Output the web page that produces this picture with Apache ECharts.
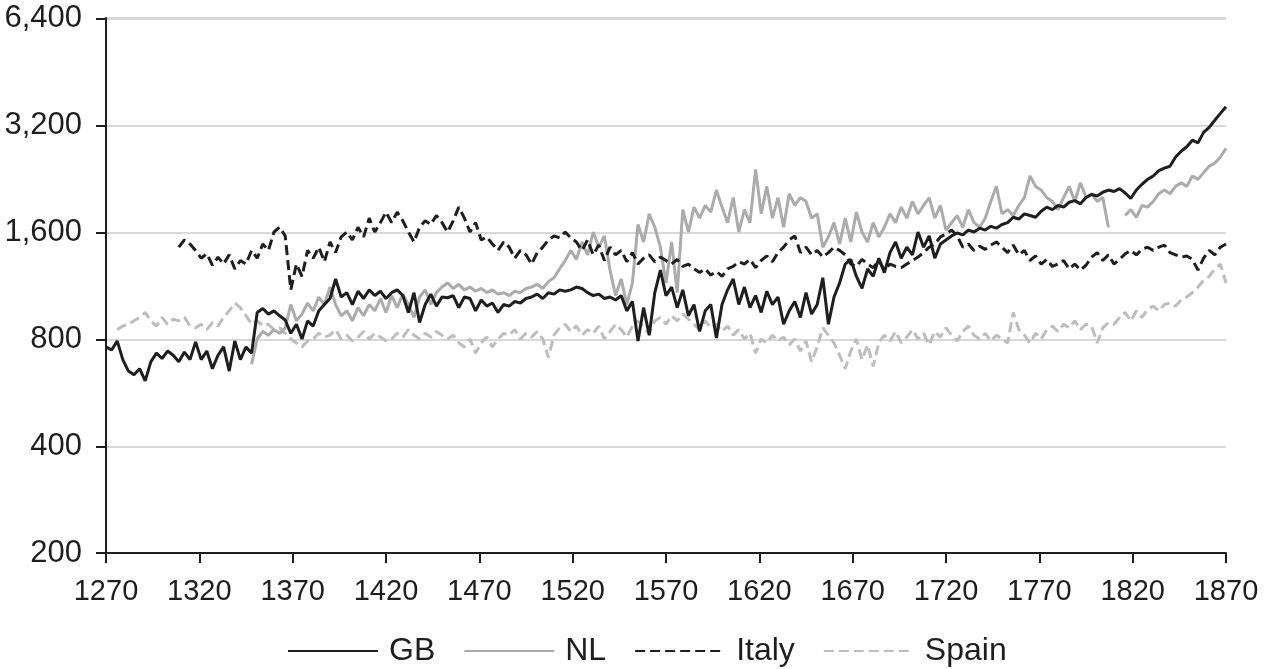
<!DOCTYPE html>
<html>
<head>
<meta charset="utf-8">
<title>GDP per capita, GB / NL / Italy / Spain</title>
<script src="https://cdn.jsdelivr.net/npm/echarts@6/dist/echarts.min.js"></script>
<style>
  html, body { margin: 0; padding: 0; background: #fff; }
  #main { width: 1264px; height: 669px; }
</style>
</head>
<body>
<div id="main"></div>
<script>
var STEP = 3;
var xTicks = [1270, 1870, 50];          // min, max, interval
var yTicks = [200, 400, 800, 1600, 3200, 6400];

var gbStart = 1270;
var gbValues = [
  760, 745, 790, 700, 650, 635, 660, 610, 690, 730,
  705, 740, 720, 690, 735, 700, 785, 700, 740, 660,
  720, 760, 650, 790, 700, 760, 730, 950, 975, 940,
  960, 930, 905, 830, 880, 800, 900, 870, 960, 1000,
  1040, 1180, 1050, 1080, 1000, 1090, 1040, 1100, 1060, 1090,
  1040, 1080, 1100, 1060, 950, 1080, 890, 1000, 1070, 990,
  1050, 1045, 1060, 980, 1050, 1040, 960, 1030, 990, 1010,
  950, 1000, 990, 1020, 1010, 1040, 1050, 1070, 1040, 1080,
  1070, 1100, 1090, 1100, 1120, 1110, 1080, 1060, 1070, 1040,
  1050, 1030, 1060, 960, 1020, 790, 980, 820, 1080, 1250,
  1060, 1120, 980, 1100, 930, 1000, 840, 960, 1000, 805,
  1000, 1100, 1180, 1000, 1120, 980, 1060, 950, 1090, 1000,
  1050, 880, 960, 1020, 920, 1080, 940, 1000, 1190, 880,
  1050, 1150, 1300, 1340, 1200, 1110, 1260, 1200, 1350, 1230,
  1400, 1500, 1350, 1450, 1380, 1600, 1450, 1560, 1350, 1480,
  1520, 1560, 1590, 1570, 1620, 1600, 1640, 1620, 1660, 1640,
  1680, 1700, 1760, 1740, 1800, 1780, 1760, 1830, 1880, 1850,
  1900, 1880, 1940, 1960, 1920, 2000, 2040, 2020, 2070, 2100,
  2080, 2120, 2060, 1990, 2100, 2180, 2250, 2300, 2380, 2420,
  2450, 2600, 2700, 2780, 2900, 2850, 3050, 3150, 3300, 3450,
  3600
];

var nlStart = 1348;
var nlValues = [
  680, 800, 840, 820, 850, 830, 860, 1000, 900, 940,
  1010, 960, 1050, 1000, 1120, 1000, 930, 960, 900, 980,
  930, 1000, 960, 1040, 950, 1060, 980, 1070, 1000, 920,
  1050, 1100, 1000, 1080, 1120, 1150, 1110, 1140, 1100, 1120,
  1090, 1110, 1080, 1100, 1070, 1080, 1060, 1090, 1080, 1110,
  1120, 1140, 1110, 1160, 1190, 1260, 1330, 1420, 1340, 1500,
  1380, 1600, 1450, 1560, 1250, 1060, 1180, 1000, 1150, 1680,
  1500, 1800, 1650, 1450, 1150, 1500, 1080, 1850, 1600, 1880,
  1750, 1900, 1820, 2100, 1880, 1700, 2000, 1600, 1850, 1700,
  2400, 1800, 2150, 1750, 2000, 1650, 2050, 1900, 2000, 1950,
  1750, 1800, 1450, 1550, 1700, 1480, 1750, 1500, 1820, 1600,
  1500, 1700, 1550, 1650, 1800, 1700, 1880, 1750, 1950, 1800,
  1900, 2000, 1750, 1900, 1620, 1700, 1780, 1650, 1850, 1700,
  1650, 1750, 1950, 2150, 1800, 1850, 1780, 1900, 2000, 2300,
  2150, 2100, 2000, 1950, 1850, 2000, 2150, 1950, 2200, 2000,
  2050, 1950, 2000, 1650, null, null, 1780, 1850, 1760, 1900,
  1880, 1950, 2050, 2100, 2050, 2150, 2200, 2150, 2300, 2250,
  2350, 2450, 2500, 2600, 2750
];

var italyStart = 1309;
var italyValues = [
  1450, 1520, 1480, 1420, 1350, 1390, 1290, 1360, 1300, 1380,
  1260, 1330, 1300, 1420, 1350, 1480, 1420, 1600, 1650, 1560,
  1100, 1300, 1200, 1420, 1350, 1450, 1320, 1500, 1400, 1550,
  1600, 1520, 1650, 1550, 1750, 1600, 1700, 1820, 1700, 1820,
  1720, 1600, 1500, 1650, 1720, 1680, 1780, 1700, 1600, 1720,
  1880, 1750, 1600, 1700, 1520, 1550, 1480, 1420, 1500, 1450,
  1350, 1420, 1380, 1300, 1400, 1450, 1520, 1560, 1540, 1600,
  1540, 1500, 1420, 1520, 1380, 1470, 1330, 1450, 1380, 1420,
  1320, 1400, 1300, 1350, 1380, 1320, 1360, 1330, 1300, 1340,
  1280, 1300, 1260, 1230, 1260, 1210, 1240, 1200, 1260, 1280,
  1320, 1300, 1340, 1270, 1330, 1370, 1320, 1400, 1450, 1520,
  1560, 1400, 1450, 1380, 1420, 1360, 1400, 1450, 1420, 1380,
  1300, 1280, 1340, 1300, 1270, 1330, 1250, 1300, 1280, 1270,
  1300, 1330, 1360, 1400, 1450, 1480, 1550, 1580, 1620, 1560,
  1450, 1480, 1420, 1460, 1430, 1470, 1500, 1450, 1400, 1470,
  1380, 1420, 1330, 1370, 1300, 1340, 1280, 1300, 1330, 1260,
  1300, 1250, 1290, 1360, 1400, 1330, 1380, 1300, 1340, 1390,
  1420, 1380, 1430, 1450, 1420, 1450, 1470, 1400, 1380, 1360,
  1370, 1340, 1250, 1350, 1420, 1380, 1450, 1480
];

var spainStart = 1276;
var spainValues = [
  850, 870, 880, 900, 920, 950, 900, 870, 920, 880,
  910, 900, 920, 870, 860, 880, 850, 890, 870, 920,
  960, 1010, 980, 930, 880, 900, 870, 880, 850, 860,
  830, 800, 780, 760, 790, 800, 830, 810, 820, 850,
  800, 820, 790, 810, 840, 800, 830, 810, 790, 800,
  830, 810, 850, 820, 800, 830, 810, 840, 820, 800,
  820, 780, 760, 800, 730, 780, 810, 760, 800, 830,
  820, 850, 800, 830, 810, 840, 800, 710, 820, 860,
  880, 840, 870, 820, 850, 830, 870, 800, 840, 880,
  850, 810, 870, 900, 860, 830, 900, 920, 880, 930,
  900, 940, 910, 880, 850, 900, 860, 880, 840, 870,
  820, 850, 800, 830, 730, 800, 780, 820, 790, 810,
  770, 800, 740, 790, 690, 760, 860, 820, 780, 720,
  660, 740, 800, 700, 770, 670, 780, 820, 790, 840,
  780, 810, 850, 800, 830, 770, 840, 810, 860, 820,
  790, 840, 870, 820, 800, 830, 790, 820, 800, 780,
  950, 850, 820, 780, 830, 800, 850, 870, 840, 880,
  860, 900, 850, 880, 870, 780, 860, 890, 880, 920,
  950, 900, 960, 920, 970, 990, 960, 1000, 1010, 990,
  1030, 1050, 1080, 1120, 1170, 1200, 1260, 1300, 1150
];

function pairs(start, values) {
  return values.map(function (v, i) { return [start + i * STEP, v]; });
}

// log ticks come back slightly rounded (3191 etc.), snap them to the real labels
function yLabel(v) {
  var best = yTicks[0];
  yTicks.forEach(function (t) {
    if (Math.abs(Math.log(t / v)) < Math.abs(Math.log(best / v))) best = t;
  });
  return best.toLocaleString('en-US');
}

var FONT = '"Liberation Sans", Arial, Helvetica, sans-serif';
var INK = '#1e1e1e';

var chart = echarts.init(document.getElementById('main'));

function lineSeries(name, start, values, color, type) {
  return {
    name: name,
    type: 'line',
    data: pairs(start, values),
    showSymbol: false,
    symbol: 'none',
    connectNulls: false,
    lineStyle: { color: color, width: 3, type: type, cap: 'butt' },
    itemStyle: { color: color },
    emphasis: { disabled: true }
  };
}

chart.setOption({
  animation: false,
  backgroundColor: '#fff',
  textStyle: { fontFamily: FONT },
  grid: { left: 106, right: 38, top: 18, bottom: 116, containLabel: false },
  xAxis: {
    type: 'value',
    min: xTicks[0],
    max: xTicks[1],
    interval: xTicks[2],
    axisLine: { lineStyle: { color: INK, width: 2 } },
    axisTick: { show: true, length: 10, lineStyle: { color: INK, width: 2 } },
    axisLabel: {
      color: INK, fontSize: 29, fontFamily: FONT, margin: 24,
      formatter: function (v) { return String(v); }
    },
    splitLine: { show: false }
  },
  yAxis: {
    type: 'log',
    logBase: 2,
    min: yTicks[0],
    max: yTicks[yTicks.length - 1],
    interval: 1,    // one doubling per gridline, counted from 200
    axisLine: { show: true, lineStyle: { color: INK, width: 2 } },
    axisTick: { show: true, length: 10, lineStyle: { color: INK, width: 2 } },
    axisLabel: {
      color: INK, fontSize: 31, fontFamily: FONT, margin: 24,
      formatter: yLabel
    },
    splitLine: { show: true, lineStyle: { color: '#d8d8d8', width: 2 } }
  },
  legend: {
    left: 287,
    top: 635,
    padding: 0,
    itemWidth: 90,
    itemHeight: 14,
    itemGap: 28,
    itemStyle: { opacity: 0 },
    textStyle: { color: INK, fontSize: 32, fontFamily: FONT, padding: [0, 0, 0, 6] },
    data: ['GB', 'NL', 'Italy', 'Spain']
  },
  series: [
    lineSeries('Spain', spainStart, spainValues, '#bdbdbd', [10, 5]),
    lineSeries('NL', nlStart, nlValues, '#ababab', 'solid'),
    lineSeries('Italy', italyStart, italyValues, INK, [10, 5]),
    lineSeries('GB', gbStart, gbValues, INK, 'solid')
  ]
});
</script>
</body>
</html>
